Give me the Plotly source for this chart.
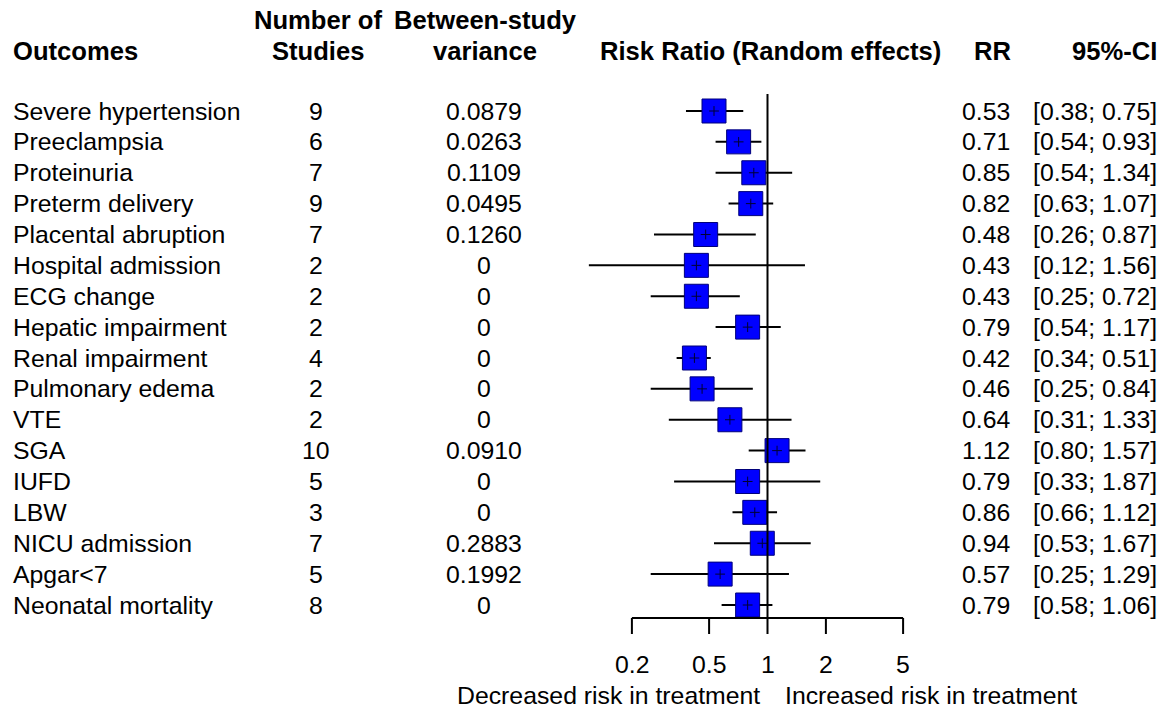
import math
import plotly.graph_objects as go

outcomes = ["Severe hypertension", "Preeclampsia", "Proteinuria", "Preterm delivery",
            "Placental abruption", "Hospital admission", "ECG change", "Hepatic impairment",
            "Renal impairment", "Pulmonary edema", "VTE", "SGA", "IUFD", "LBW",
            "NICU admission", "Apgar<7", "Neonatal mortality"]
n_studies = [9, 6, 7, 9, 7, 2, 2, 2, 4, 2, 2, 10, 5, 3, 7, 5, 8]
tau2 = ["0.0879", "0.0263", "0.1109", "0.0495", "0.1260", "0", "0", "0", "0", "0", "0",
        "0.0910", "0", "0", "0.2883", "0.1992", "0"]
rr = [0.53, 0.71, 0.85, 0.82, 0.48, 0.43, 0.43, 0.79, 0.42, 0.46, 0.64, 1.12, 0.79, 0.86, 0.94, 0.57, 0.79]
ci_low = [0.38, 0.54, 0.54, 0.63, 0.26, 0.12, 0.25, 0.54, 0.34, 0.25, 0.31, 0.80, 0.33, 0.66, 0.53, 0.25, 0.58]
ci_high = [0.75, 0.93, 1.34, 1.07, 0.87, 1.56, 0.72, 1.17, 0.51, 0.84, 1.33, 1.57, 1.87, 1.12, 1.67, 1.29, 1.06]
tick_vals = [0.2, 0.5, 1, 2, 5]
tick_text = ["0.2", "0.5", "1", "2", "5"]

W, H = 1164, 710
FONT = "Arial, Liberation Sans, sans-serif"
FS = 24.8
FSB = 25.6
rows = list(range(len(outcomes)))

# pixel helpers for layout (row 0 at y=111px, spacing 30.875px)
ROW0, DY = 111.0, 30.875
def ypx(py):
    return (py - ROW0) / DY

fig = go.Figure()

# CI lines
xs, ys = [], []
for i in rows:
    xs += [ci_low[i], ci_high[i], None]
    ys += [i, i, None]
fig.add_trace(go.Scatter(x=xs, y=ys, mode="lines", line=dict(color="black", width=2),
                         hoverinfo="skip", showlegend=False))
# squares
fig.add_trace(go.Scatter(x=rr, y=rows, mode="markers",
                         marker=dict(symbol="square", size=24, color="#0000FF",
                                     line=dict(color="#00007A", width=1)),
                         showlegend=False))
# centre crosses
fig.add_trace(go.Scatter(x=rr, y=rows, mode="markers",
                         marker=dict(symbol="cross-thin", size=7,
                                     line=dict(color="#000033", width=1)),
                         hoverinfo="skip", showlegend=False))

shapes = []
axis_y = ypx(618)
# reference line at 1
shapes.append(dict(type="line", xref="x", yref="y", x0=1, x1=1, y0=ypx(94), y1=axis_y,
                   line=dict(color="black", width=2)))
# x axis line
shapes.append(dict(type="line", xref="x", yref="y", x0=tick_vals[0], x1=tick_vals[-1],
                   y0=axis_y, y1=axis_y, line=dict(color="black", width=2)))
for tv in tick_vals:
    shapes.append(dict(type="line", xref="x", yref="y", x0=tv, x1=tv, y0=axis_y, y1=ypx(634),
                       line=dict(color="black", width=2)))

ann = []
def txt(x, y, s, xanchor="center", bold=False, xref="paper", yref="y"):
    ann.append(dict(x=x, y=y, xref=xref, yref=yref, text=(f"<b>{s}</b>" if bold else s),
                    showarrow=False, xanchor=xanchor, yanchor="middle",
                    font=dict(family=FONT, size=(FSB if bold else FS), color="black")))

# headers
h1, h2 = ypx(20), ypx(51)
txt(11 / W, h2, "Outcomes", "left", True)
txt(318 / W, h1, "Number of", "center", True)
txt(318 / W, h2, "Studies", "center", True)
txt(485 / W, h1, "Between-study", "center", True)
txt(485 / W, h2, "variance", "center", True)
txt(770 / W, h2, "Risk Ratio (Random effects)", "center", True)
txt(1013 / W, h2, "RR", "right", True)
txt(1159 / W, h2, "95%-CI", "right", True)

for i in rows:
    txt(11 / W, i, outcomes[i].replace("<", "&lt;"), "left")
    txt(316 / W, i, str(n_studies[i]), "center")
    txt(484 / W, i, tau2[i], "center")
    txt(1012 / W, i, f"{rr[i]:.2f}", "right")
    txt(1159 / W, i, f"[{ci_low[i]:.2f}; {ci_high[i]:.2f}]", "right")

# tick labels (annotation x on a log axis is given in log10 units)
for tv, tt in zip(tick_vals, tick_text):
    txt(math.log10(tv), ypx(664), tt, "center", xref="x")
txt(762 / W, ypx(695), "Decreased risk in treatment", "right")
txt(783 / W, ypx(695), "Increased risk in treatment", "left")

fig.update_layout(
    width=W, height=H, margin=dict(l=0, r=0, t=0, b=0),
    paper_bgcolor="white", plot_bgcolor="white",
    xaxis=dict(type="log", range=[-1, 1], domain=[573.5 / W, 961.5 / W], visible=False),
    yaxis=dict(range=[ypx(H), ypx(0)], domain=[0, 1], visible=False),
    shapes=shapes, annotations=ann, showlegend=False,
)
fig.write_html("out.html", config={"displayModeBar": False},
               post_script="document.body.style.margin='0px';document.body.style.overflow='hidden';")
